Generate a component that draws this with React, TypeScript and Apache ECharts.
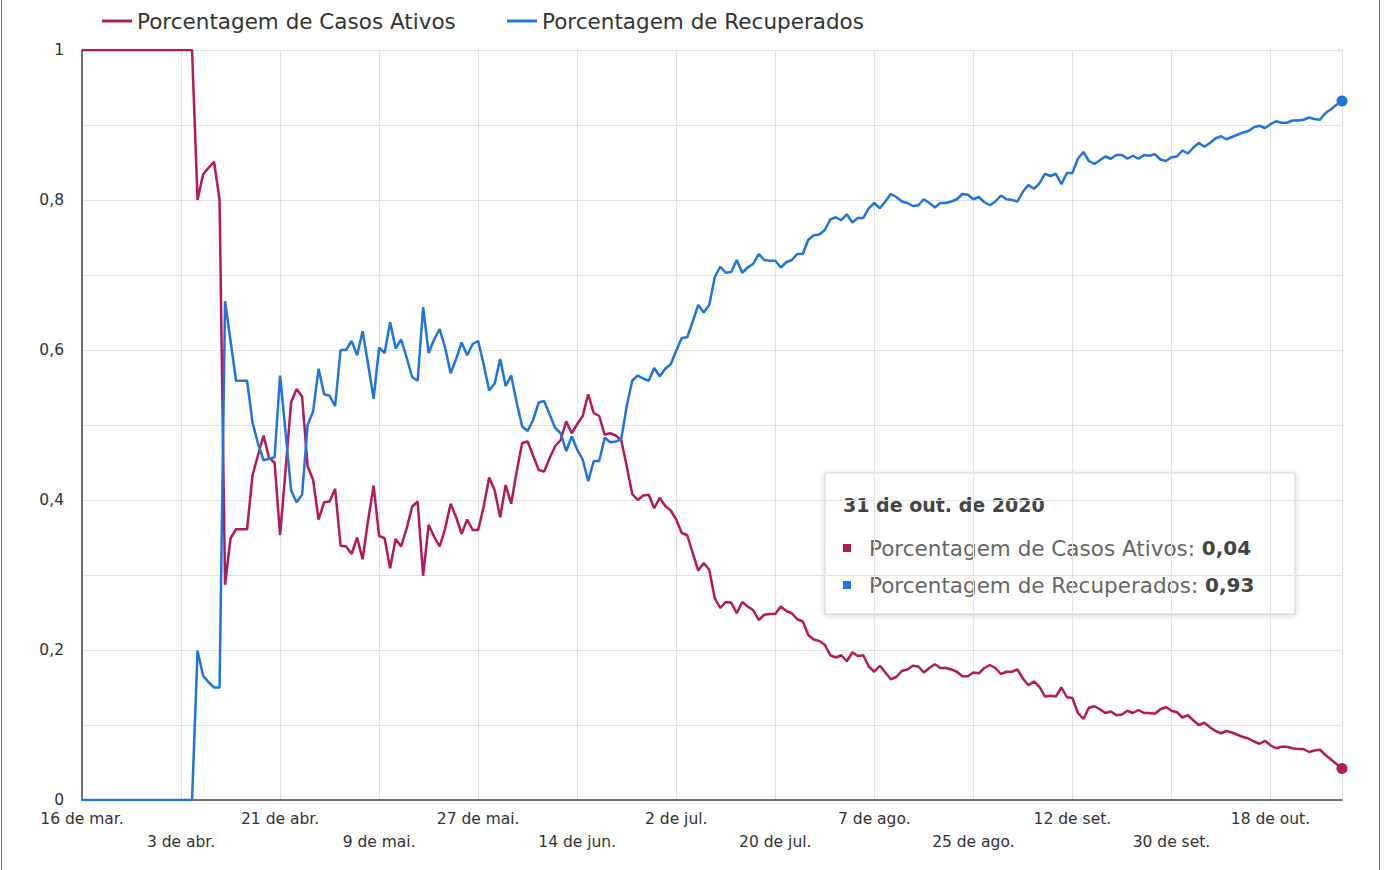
import React, { useEffect, useRef } from "react";
import * as echarts from "echarts";

// 16 de mar. de 2020 .. 31 de out. de 2020 (daily)
const startYear = 2020;
const startMonth = 2; // March (0-based)
const startDay = 16;
const monthNames = ["jan.", "fev.", "mar.", "abr.", "mai.", "jun.", "jul.", "ago.", "set.", "out.", "nov.", "dez."];

const seriesNames = ["Porcentagem de Casos Ativos", "Porcentagem de Recuperados"];
const seriesColors = ["#b5195b", "#1f74e0"];

const activeCases = [
  1, 1, 1, 1, 1, 1, 1, 1, 1, 1, 1, 1, 1, 1, 1, 1, 1, 1, 1, 1, 1,
  0.8, 0.834, 0.843, 0.851, 0.8, 0.287, 0.349, 0.361, 0.361, 0.361,
  0.433, 0.46, 0.486, 0.456, 0.45, 0.353, 0.44, 0.53, 0.548, 0.538,
  0.445, 0.427, 0.374, 0.397, 0.398, 0.415, 0.339, 0.338, 0.328, 0.35,
  0.321, 0.373, 0.419, 0.352, 0.349, 0.309, 0.348, 0.338, 0.362, 0.391,
  0.398, 0.299, 0.367, 0.351, 0.338, 0.362, 0.395, 0.377, 0.355, 0.374,
  0.36, 0.36, 0.391, 0.43, 0.413, 0.377, 0.42, 0.395, 0.438, 0.476,
  0.478, 0.459, 0.44, 0.438, 0.456, 0.472, 0.48, 0.505, 0.489, 0.501,
  0.512, 0.541, 0.516, 0.512, 0.487, 0.489, 0.486, 0.48, 0.445, 0.408,
  0.4, 0.406, 0.407, 0.389, 0.403, 0.392, 0.386, 0.374, 0.356, 0.353,
  0.329, 0.306, 0.316, 0.307, 0.269, 0.256, 0.264, 0.263, 0.249, 0.264,
  0.258, 0.253, 0.24, 0.247, 0.248, 0.248, 0.258, 0.252, 0.249, 0.241,
  0.238, 0.22, 0.214, 0.212, 0.207, 0.193, 0.19, 0.193, 0.185, 0.197,
  0.192, 0.193, 0.178, 0.171, 0.179, 0.17, 0.161, 0.164, 0.172, 0.174,
  0.179, 0.178, 0.17, 0.176, 0.181, 0.176, 0.176, 0.174, 0.171, 0.165,
  0.165, 0.17, 0.169, 0.176, 0.18, 0.176, 0.168, 0.171, 0.171, 0.174,
  0.162, 0.153, 0.158, 0.151, 0.138, 0.139, 0.138, 0.15, 0.137, 0.136,
  0.116, 0.108, 0.123, 0.125, 0.121, 0.116, 0.118, 0.113, 0.114, 0.119,
  0.116, 0.12, 0.116, 0.116, 0.115, 0.121, 0.124, 0.119, 0.117, 0.11,
  0.113, 0.106, 0.1, 0.103, 0.097, 0.092, 0.089, 0.092, 0.09, 0.087,
  0.084, 0.082, 0.078, 0.075, 0.079, 0.073, 0.069, 0.071, 0.071, 0.069,
  0.068, 0.068, 0.064, 0.066, 0.067, 0.06, 0.054, 0.048, 0.042,
];

const recovered = [
  0, 0, 0, 0, 0, 0, 0, 0, 0, 0, 0, 0, 0, 0, 0, 0, 0, 0, 0, 0, 0,
  0.199, 0.166, 0.157, 0.15, 0.15, 0.665, 0.612, 0.559, 0.559, 0.559,
  0.503, 0.475, 0.453, 0.455, 0.457, 0.566, 0.49, 0.413, 0.397, 0.407,
  0.5, 0.518, 0.575, 0.541, 0.539, 0.525, 0.6, 0.6, 0.612, 0.593,
  0.625, 0.581, 0.535, 0.603, 0.596, 0.637, 0.602, 0.614, 0.59, 0.564,
  0.559, 0.657, 0.596, 0.614, 0.628, 0.603, 0.569, 0.588, 0.61, 0.593,
  0.608, 0.612, 0.581, 0.546, 0.555, 0.588, 0.552, 0.566, 0.53, 0.498,
  0.492, 0.507, 0.53, 0.532, 0.514, 0.496, 0.489, 0.465, 0.485, 0.467,
  0.454, 0.425, 0.452, 0.452, 0.483, 0.477, 0.478, 0.481, 0.525, 0.559,
  0.566, 0.562, 0.559, 0.576, 0.565, 0.575, 0.581, 0.599, 0.616, 0.617,
  0.638, 0.66, 0.65, 0.66, 0.697, 0.711, 0.703, 0.704, 0.72, 0.703,
  0.71, 0.715, 0.728, 0.72, 0.719, 0.719, 0.71, 0.717, 0.72, 0.728,
  0.728, 0.747, 0.753, 0.754, 0.76, 0.774, 0.777, 0.773, 0.781, 0.77,
  0.776, 0.776, 0.789, 0.796, 0.789, 0.798, 0.808, 0.804, 0.798, 0.796,
  0.792, 0.793, 0.801, 0.796, 0.79, 0.796, 0.796, 0.798, 0.801, 0.808,
  0.807, 0.801, 0.804, 0.797, 0.793, 0.798, 0.806, 0.801, 0.8, 0.798,
  0.811, 0.82, 0.815, 0.822, 0.835, 0.832, 0.835, 0.821, 0.836, 0.836,
  0.855, 0.864, 0.852, 0.848, 0.853, 0.858, 0.855, 0.86, 0.86, 0.855,
  0.859, 0.855, 0.86, 0.859, 0.861, 0.854, 0.852, 0.857, 0.858, 0.866,
  0.862, 0.87, 0.876, 0.871, 0.876, 0.882, 0.885, 0.881, 0.884, 0.887,
  0.89, 0.892, 0.897, 0.899, 0.896, 0.901, 0.905, 0.903, 0.903, 0.906,
  0.906, 0.907, 0.91, 0.908, 0.907, 0.916, 0.921, 0.927, 0.932,
];

const yTickLabels = ["0", "0,2", "0,4", "0,6", "0,8", "1"];
const xLabelEvery = 18;

const FONT = "'DejaVu Sans', sans-serif";

function buildCategories(n: number): string[] {
  const out: string[] = [];
  for (let i = 0; i < n; i++) {
    const d = new Date(Date.UTC(startYear, startMonth, startDay + i));
    out.push(`${d.getUTCDate()} de ${monthNames[d.getUTCMonth()]}`);
  }
  return out;
}

function fmt2(v: number): string {
  return v.toFixed(2).replace(".", ",");
}

export default function App() {
  const ref = useRef<HTMLDivElement>(null);

  useEffect(() => {
    if (!ref.current) return;
    const chart = echarts.init(ref.current, null, { renderer: "svg" });
    const categories = buildCategories(activeCases.length);
    const last = activeCases.length - 1;
    const title = `${categories[last]} de ${startYear}`;

    const makeSeries = (idx: number, data: number[]) => ({
      name: seriesNames[idx],
      type: "line",
      data,
      symbol: "none",
      showSymbol: false,
      lineStyle: { width: 2.5, color: seriesColors[idx] },
      itemStyle: { color: seriesColors[idx] },
      emphasis: { disabled: true },
      markPoint: {
        symbol: "circle",
        symbolSize: 11,
        label: { show: false },
        itemStyle: { color: seriesColors[idx] },
        data: [{ coord: [categories[last], data[last]] }],
      },
    });

    const legendCommon = {
      top: 5,
      icon: "rect",
      itemWidth: 30,
      itemHeight: 3,
      itemGap: 8,
      textStyle: { fontSize: 21.5, color: "#333", fontFamily: FONT },
    };

    const option: any = {
      animation: false,
      textStyle: { fontFamily: FONT },
      grid: { left: 82, right: 44, top: 50, bottom: 70, containLabel: false, outerBoundsMode: "none" },
      legend: [
        { ...legendCommon, data: [seriesNames[0]], left: 97 },
        { ...legendCommon, data: [seriesNames[1]], left: 502 },
      ],
      xAxis: {
        type: "category",
        data: categories,
        boundaryGap: false,
        axisLine: { show: true, lineStyle: { color: "#444", width: 1.5 } },
        axisTick: { show: false },
        axisLabel: {
          interval: xLabelEvery - 1,
          color: "#333",
          fontSize: 15.5,
          fontFamily: FONT,
          lineHeight: 23,
          margin: 7,
          formatter: (value: string, index: number) =>
            Math.round(index / xLabelEvery) % 2 === 1 ? `\n${value}` : value,
        },
        splitLine: { show: true, interval: xLabelEvery - 1, lineStyle: { color: "#e3e3e3", width: 1 } },
      },
      yAxis: [
        {
          type: "value",
          min: 0,
          max: 1,
          interval: 0.1,
          axisLine: { show: true, lineStyle: { color: "#444", width: 1.5 } },
          axisTick: { show: false },
          axisLabel: {
            color: "#333",
            fontSize: 15.5,
            fontFamily: FONT,
            margin: 18,
            formatter: (v: number) => {
              const k = Math.round(v * 10);
              return k % 2 === 0 ? yTickLabels[k / 2] : "";
            },
          },
          splitLine: { show: true, lineStyle: { color: "#e3e3e3", width: 1 } },
        },
        {
          type: "value",
          min: 0,
          max: 1,
          interval: 0.1,
          position: "right",
          axisLine: { show: true, lineStyle: { color: "#e3e3e3", width: 1 } },
          axisTick: { show: false },
          axisLabel: { show: false },
          splitLine: { show: false },
        },
      ],
      series: [makeSeries(0, activeCases), makeSeries(1, recovered)],
      graphic: [
        {
          type: "rect",
          shape: { x: 1.5, y: -2, width: 1378, height: 874 },
          style: { fill: "none", stroke: "#777", lineWidth: 1 },
          silent: true,
          z: 200,
        },
        {
          type: "group",
          z: 300,
          children: [
            {
              type: "rect",
              shape: { x: 825, y: 473, width: 470, height: 141 },
              style: {
                fill: "#fff",
                stroke: "#cfcfcf",
                lineWidth: 1,
                shadowBlur: 6,
                shadowOffsetY: 1,
                shadowColor: "rgba(0,0,0,0.18)",
              },
            },
            {
              type: "text",
              x: 843,
              y: 505,
              style: {
                text: title,
                fontFamily: FONT,
                fontSize: 19,
                fontWeight: "bold",
                fill: "#444",
                verticalAlign: "middle",
              },
            },
            {
              type: "rect",
              shape: { x: 843, y: 544, width: 8, height: 8 },
              style: { fill: seriesColors[0] },
            },
            {
              type: "text",
              x: 869,
              y: 548,
              style: {
                text: `{a|${seriesNames[0]}: }{b|${fmt2(activeCases[last])}}`,
                verticalAlign: "middle",
                rich: {
                  a: { fontFamily: FONT, fontSize: 21.5, fill: "#666" },
                  b: { fontFamily: FONT, fontSize: 20, fontWeight: "bold", fill: "#444" },
                },
              },
            },
            {
              type: "rect",
              shape: { x: 843, y: 581, width: 8, height: 8 },
              style: { fill: seriesColors[1] },
            },
            {
              type: "text",
              x: 869,
              y: 585,
              style: {
                text: `{a|${seriesNames[1]}: }{b|${fmt2(recovered[last])}}`,
                verticalAlign: "middle",
                rich: {
                  a: { fontFamily: FONT, fontSize: 21.5, fill: "#666" },
                  b: { fontFamily: FONT, fontSize: 20, fontWeight: "bold", fill: "#444" },
                },
              },
            },
          ],
        },
      ],
    };

    chart.setOption(option);
    return () => chart.dispose();
  }, []);

  return (
    <div
      ref={ref}
      style={{ position: "absolute", left: 0, top: 0, width: 1386, height: 870, background: "#fff" }}
    />
  );
}
